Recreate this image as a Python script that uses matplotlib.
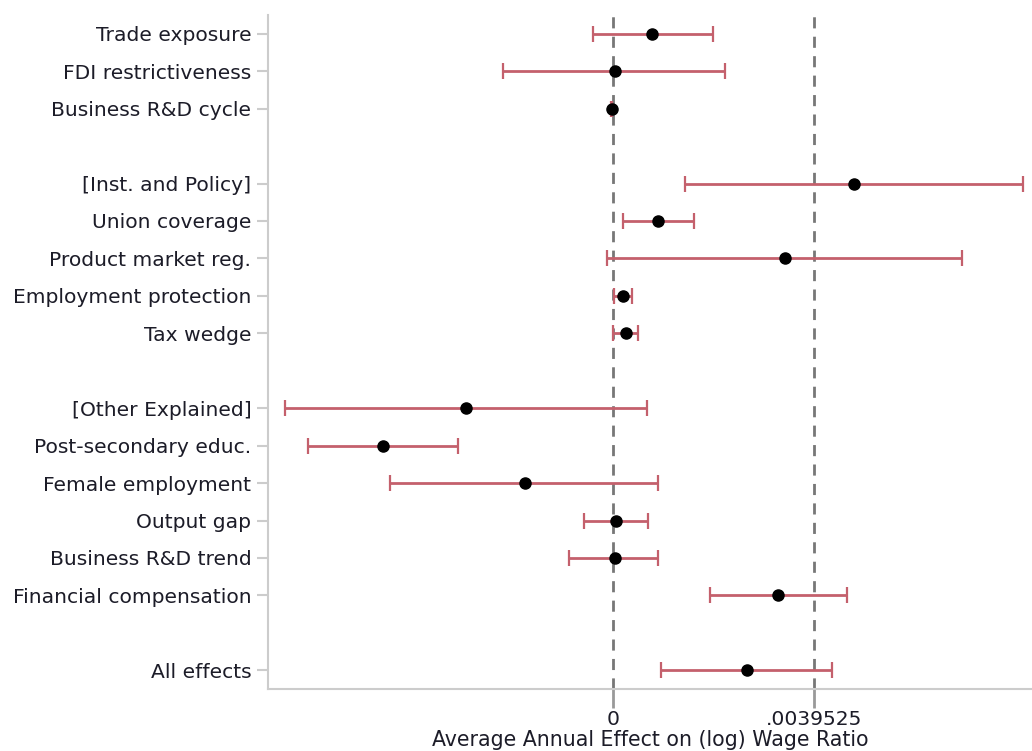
import numpy as np
import matplotlib
matplotlib.use("Agg")
import matplotlib.pyplot as plt

# rows top to bottom; None = blank spacer slot
labels = ["Trade exposure", "FDI restrictiveness", "Business R&D cycle", None,
          "[Inst. and Policy]", "Union coverage", "Product market reg.",
          "Employment protection", "Tax wedge", None,
          "[Other Explained]", "Post-secondary educ.", "Female employment",
          "Output gap", "Business R&D trend", "Financial compensation", None,
          "All effects"]
est = [0.000775, 0.000033, -0.00002, None,
       0.004745, 0.000895, 0.003376, 0.000206, 0.000254, None,
       -0.002897, -0.004529, -0.001734, 0.000053, 0.000033, 0.003248, None,
       0.002635]
lo = [-0.000401, -0.002169, -0.00003, None,
      0.001414, 0.000201, -0.000114, 0.000028, 0.000006, None,
      -0.006444, -0.005998, -0.004385, -0.000566, -0.000861, 0.001915, None,
      0.000940]
hi = [0.001968, 0.002208, -0.00001, None,
      0.008060, 0.001601, 0.006873, 0.000380, 0.000499, None,
      0.000661, -0.003042, 0.000895, 0.000694, 0.000895, 0.004597, None,
      0.004316]
ref_lines = [0.0, 0.0039525]
xtick_labels = ["0", ".0039525"]

pos = [i for i, l in enumerate(labels) if l is not None]
e = np.array([est[i] for i in pos])
l = np.array([lo[i] for i in pos])
h = np.array([hi[i] for i in pos])

fig = plt.figure(figsize=(10.32, 7.51), dpi=100)
ax = fig.add_axes([268/1032, 62/751, 1 - 268/1032, 674/751])

for x in ref_lines:
    ax.axvline(x, color="#777777", ls=(0, (4, 3)), lw=2, zorder=1)

ax.errorbar(e, pos, xerr=[e - l, h - e], fmt="none", ecolor="#c4606c",
            elinewidth=2, capsize=6, capthick=1.6, zorder=2)
ax.plot(e, pos, "o", color="black", ms=8, zorder=3)

txt = "#1c1c28"
ax.set_ylim(17.5, -0.5)
ax.set_xlim(-0.006784, 0.00824)
ax.set_yticks(pos)
ax.set_yticklabels([labels[i] for i in pos], fontsize=14.6, color=txt)
ax.set_xticks(ref_lines)
ax.set_xticklabels(xtick_labels, fontsize=14.6, color=txt)
ax.set_xlabel("Average Annual Effect on (log) Wage Ratio", fontsize=14.8,
              color=txt, labelpad=1)

for s in ["top", "right"]:
    ax.spines[s].set_visible(False)
for s in ["left", "bottom"]:
    ax.spines[s].set_color("#cccccc")
    ax.spines[s].set_linewidth(1.5)
ax.tick_params(axis="y", length=8, width=1.5, color="#cccccc", pad=4)
ax.tick_params(axis="x", length=14, width=2, color="#999999", pad=1)

fig.savefig("out.png", dpi=100)
